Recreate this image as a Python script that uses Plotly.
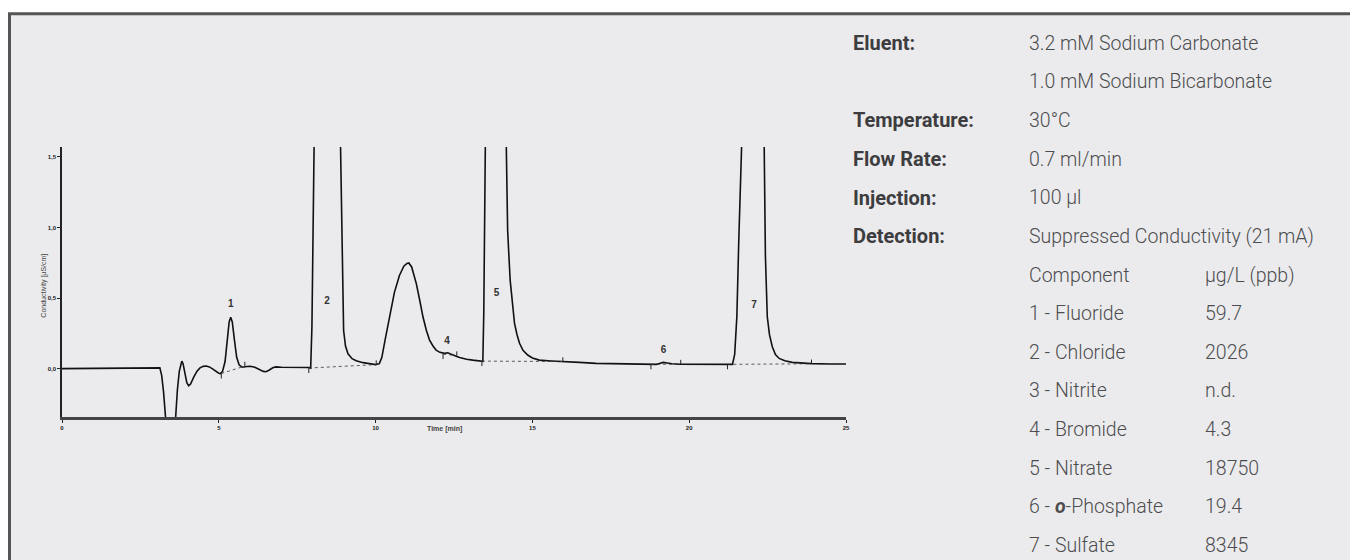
import plotly.graph_objects as go

# ---------------- data ----------------
time_min = [0.0, 1.5, 3.0, 3.12, 3.18, 3.24, 3.30, 3.38, 3.47, 3.55, 3.62, 3.68, 3.74, 3.79, 3.82,
            3.86, 3.92, 3.98, 4.04, 4.10, 4.20, 4.30, 4.40, 4.50, 4.60, 4.70, 4.80, 4.90, 5.00,
            5.05, 5.12, 5.20, 5.27, 5.33, 5.38, 5.43, 5.50, 5.57, 5.65, 5.75, 5.90, 6.00, 6.15,
            6.30, 6.42, 6.50, 6.60, 6.72, 6.82, 7.00, 7.50, 7.88, 7.93, 7.97, 8.04, 8.45, 8.88,
            8.93, 8.98, 9.04, 9.12, 9.25, 9.38, 9.60, 9.81, 10.00, 10.12, 10.20, 10.30, 10.45,
            10.60, 10.76, 10.90, 11.00, 11.06, 11.15, 11.30, 11.42, 11.51, 11.62, 11.72, 11.83,
            11.93, 12.05, 12.20, 12.30, 12.40, 12.55, 12.68, 12.90, 13.10, 13.37, 13.42, 13.45,
            13.50, 13.85, 14.17, 14.21, 14.29, 14.36, 14.43, 14.51, 14.59, 14.70, 14.85, 15.00,
            15.22, 15.60, 15.97, 16.50, 17.03, 17.50, 17.98, 18.50, 18.95, 19.05, 19.17, 19.30,
            19.45, 19.70, 20.50, 21.30, 21.38, 21.45, 21.52, 21.58, 21.65, 22.00, 22.39, 22.43,
            22.49, 22.56, 22.65, 22.75, 22.87, 23.05, 23.29, 23.60, 23.90, 24.50, 25.00]
conductivity = [0.0, 0.003, 0.008, 0.005, -0.05, -0.17, -0.34, -0.70, -0.85, -0.60, -0.34, -0.15,
                -0.02, 0.045, 0.053, 0.035, -0.04, -0.10, -0.122, -0.11, -0.06, -0.02, 0.005,
                0.016, 0.018, 0.012, -0.002, -0.02, -0.033, -0.035, -0.02, 0.05, 0.20, 0.33, 0.363,
                0.33, 0.20, 0.08, 0.025, 0.010, 0.015, 0.016, 0.010, -0.008, -0.020, -0.022,
                -0.012, 0.006, 0.012, 0.010, 0.010, 0.008, 0.004, 0.30, 1.60, 3.50, 1.60, 0.80,
                0.27, 0.16, 0.105, 0.07, 0.055, 0.042, 0.035, 0.028, 0.035, 0.08, 0.20, 0.38,
                0.54, 0.66, 0.725, 0.745, 0.748, 0.72, 0.60, 0.47, 0.367, 0.27, 0.202, 0.16,
                0.131, 0.115, 0.108, 0.112, 0.105, 0.09, 0.079, 0.066, 0.06, 0.055, 0.052, 0.40,
                1.60, 6.00, 1.60, 0.98, 0.628, 0.45, 0.32, 0.24, 0.179, 0.13, 0.096, 0.075,
                0.06, 0.054, 0.051, 0.044, 0.037, 0.034, 0.032, 0.031, 0.030, 0.036, 0.044, 0.040,
                0.034, 0.031, 0.031, 0.031, 0.030, 0.10, 0.37, 0.90, 1.60, 4.00, 1.60, 0.80,
                0.367, 0.24, 0.155, 0.10, 0.072, 0.055, 0.044, 0.038, 0.035, 0.033, 0.032]

# integration baselines: start / end of each peak
bl_t0 = [5.08, 7.87, 12.15, 13.39, 18.78, 21.22]
bl_y0 = [-0.035, 0.004, 0.103, 0.053, 0.030, 0.030]
bl_t1 = [5.83, 10.02, 12.59, 15.97, 19.73, 23.90]
bl_y1 = [0.018, 0.028, 0.092, 0.050, 0.032, 0.034]

# peak labels
peak_num = ["1", "2", "4", "5", "6", "7"]
peak_t = [5.38, 8.45, 12.28, 13.86, 19.18, 22.07]
peak_y = [0.457, 0.474, 0.19, 0.533, 0.129, 0.445]

x_ticks = [0, 5, 10, 15, 20, 25]
y_ticks = [0.0, 0.5, 1.0, 1.5]
y_tick_text = ["0,0", "0,5", "1,0", "1,5"]

param_labels = ["Eluent:", "", "Temperature:", "Flow Rate:", "Injection:", "Detection:"]
param_values = ["3.2 mM Sodium Carbonate", "1.0 mM Sodium Bicarbonate", "30°C",
                "0.7 ml/min", "100 µl", "Suppressed Conductivity (21 mA)"]
components = ["Component", "1 - Fluoride", "2 - Chloride", "3 - Nitrite", "4 - Bromide",
              "5 - Nitrate", "6 - <b><i>o</i></b>-Phosphate", "7 - Sulfate"]
concentrations = ["µg/L (ppb)", "59.7", "2026", "n.d.", "4.3", "18750", "19.4", "8345"]

# ---------------- layout geometry (figure pixels; page has 8px body margin) ----------------
W, H = 1358, 560
PX0, PX1 = 54, 838          # plot area x pixel range
PY0, PY1 = 139, 408.7       # plot area y pixel range (top, bottom)
Y_MIN, Y_MAX = -0.343, 1.57


def xp(px):
    return (px - PX0) / (PX1 - PX0)


def yp(py):
    return (PY1 - py) / (PY1 - PY0)


fig = go.Figure()

fig.add_trace(go.Scatter(x=time_min, y=conductivity, mode="lines",
                         line=dict(color="#111111", width=1.6), hoverinfo="skip",
                         showlegend=False))

# integration baselines (dotted) and tick marks
bx, by, tx, ty = [], [], [], []
for t0, y0, t1, y1 in zip(bl_t0, bl_y0, bl_t1, bl_y1):
    bx += [t0, t1, None]
    by += [y0, y1, None]
    tx += [t0, t0, None, t1, t1, None]
    ty += [y0, y0 - 0.035, None, y1, y1 + 0.03, None]
fig.add_trace(go.Scatter(x=bx, y=by, mode="lines", line=dict(color="#333333", width=0.8, dash="dot"),
                         hoverinfo="skip", showlegend=False))
fig.add_trace(go.Scatter(x=tx, y=ty, mode="lines", line=dict(color="#222222", width=1),
                         hoverinfo="skip", showlegend=False))

fig.add_trace(go.Scatter(x=peak_t, y=peak_y, mode="text", text=peak_num,
                         textfont=dict(family="Liberation Sans", size=10, color="#333333", weight="bold"),
                         hoverinfo="skip", showlegend=False))

# background panel with border (top & left visible)
fig.add_shape(type="rect", xref="paper", yref="paper", layer="below",
              x0=xp(1.5), x1=xp(W + 20), y0=yp(H + 20), y1=yp(6),
              fillcolor="#ebebed", line=dict(color="#555555", width=3))

# axis titles
fig.add_annotation(xref="paper", yref="paper", x=xp(30.5), y=yp(278), text="Conductivity [µS/cm]",
                   textangle=-90, showarrow=False,
                   font=dict(family="Liberation Sans", size=7, color="#444444"))
fig.add_annotation(xref="paper", yref="paper", x=xp(436), y=yp(427), text="Time [min]",
                   showarrow=False,
                   font=dict(family="Liberation Sans", size=7, color="#444444", weight="bold"))

# right-hand method table
FONT = "Roboto"
FS_LAB, FS_VAL = 20, 19.5
ROW0, DROW = 35.3, 38.6
LAB_X, VAL_X, PPB_X = 843, 1019, 1195
for i, (lab, val) in enumerate(zip(param_labels, param_values)):
    y = yp(ROW0 + DROW * i)
    if lab:
        fig.add_annotation(xref="paper", yref="paper", x=xp(LAB_X), y=y, text=lab, showarrow=False,
                           xanchor="left", yanchor="middle",
                           font=dict(family=FONT, size=FS_LAB, color="#3d3d3f", weight="bold"))
    fig.add_annotation(xref="paper", yref="paper", x=xp(VAL_X), y=y, text=val, showarrow=False,
                       xanchor="left", yanchor="middle",
                       font=dict(family=FONT, size=FS_VAL, color="#4d4d4f", weight=300))
for j, (comp, conc) in enumerate(zip(components, concentrations)):
    y = yp(ROW0 + DROW * (6 + j))
    fig.add_annotation(xref="paper", yref="paper", x=xp(VAL_X), y=y, text=comp, showarrow=False,
                       xanchor="left", yanchor="middle",
                       font=dict(family=FONT, size=FS_VAL, color="#4d4d4f", weight=300))
    fig.add_annotation(xref="paper", yref="paper", x=xp(PPB_X), y=y, text=conc, showarrow=False,
                       xanchor="left", yanchor="middle",
                       font=dict(family=FONT, size=FS_VAL, color="#4d4d4f", weight=300))

tickfont = dict(family="Liberation Sans", size=6, color="#222222", weight="bold")
fig.update_layout(
    width=W, height=H, autosize=False,
    margin=dict(l=PX0, r=W - PX1, t=PY0, b=H - PY1, pad=0),
    paper_bgcolor="white", plot_bgcolor="rgba(0,0,0,0)",
    xaxis=dict(range=[0, 25], tickvals=x_ticks, ticks="outside", ticklen=3, tickwidth=1,
               tickcolor="#222222", showline=True, linecolor="#444444", linewidth=2.5,
               showgrid=False, zeroline=False, tickfont=tickfont),
    yaxis=dict(range=[Y_MIN, Y_MAX], tickvals=y_ticks, ticktext=y_tick_text, ticks="outside",
               ticklen=3, tickwidth=1, tickcolor="#222222", showline=True, linecolor="#222222",
               linewidth=1.5, showgrid=False, zeroline=False, tickfont=tickfont),
)

fig.write_html("out.html")
